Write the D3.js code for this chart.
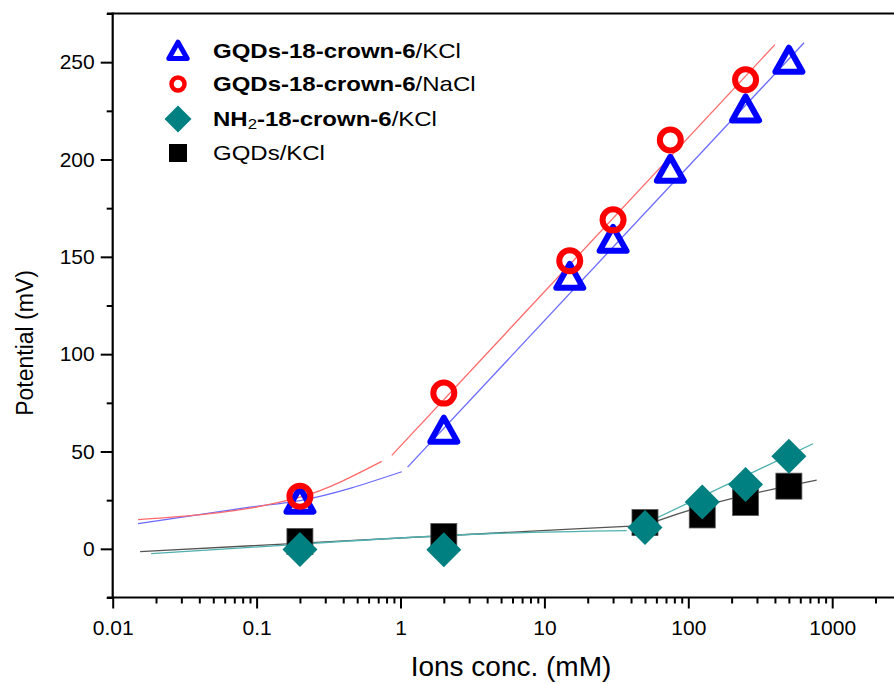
<!DOCTYPE html>
<html>
<head>
<meta charset="utf-8">
<script src="https://cdn.jsdelivr.net/npm/d3@7"></script>
<style>
  html, body { margin: 0; padding: 0; background: #fff; }
  svg { display: block; }
</style>
</head>
<body>
<svg id="chart" width="894" height="684"></svg>
<script>
// ---------- data ----------
const xTickValues = [0.01, 0.1, 1, 10, 100, 1000];
const xTickLabels = ["0.01", "0.1", "1", "10", "100", "1000"];
const yTickValues = [0, 50, 100, 150, 200, 250];
const yTickLabels = ["0", "50", "100", "150", "200", "250"];

const seriesNames = ["GQDs-18-crown-6/KCl", "GQDs-18-crown-6/NaCl", "NH2-18-crown-6/KCl", "GQDs/KCl"];

const triConc = [0.2, 2, 15, 30, 75, 250, 500];
const triVal  = [24, 60, 139, 158, 194, 225, 250];

const circConc = [0.2, 2, 15, 30, 75, 250];
const circVal  = [27, 80, 148, 169, 210, 241];

const diaConc = [0.2, 2, 50, 125, 250, 500];
const diaVal  = [-0.3, -0.5, 11, 24, 33, 47.5];

const sqConc = [0.2, 2, 50, 125, 250, 500];
const sqVal  = [3.8, 6.3, 13.5, 17.4, 23.8, 32.2];

// fitted lines (as [conc, value] points)
const blueFit1 = [[0.015, 13], [0.09, 21.4], [0.2, 24.8], [1.02, 39.6]];
const blueFit2 = [[1.12, 42], [637, 260]];
const redFit1  = [[0.015, 15], [0.2, 26.5], [0.74, 44.9]];
const redFit2  = [[0.87, 48], [400, 259]];
const blackFit1 = [[0.0155, -1.4], [17.7, 10.4], [50, 12]];
const blackFit2 = [[50, 12], [61.7, 14.5], [780, 35.3]];
const tealFit1 = [[0.0185, -2.5], [0.09, 0.8], [4.94, 8.0], [37.3, 9.4]];
const tealFit2 = [[48.4, 12.5], [736, 54]];

// ---------- layout ----------
const svg = d3.select("#chart");
const x = d3.scaleLog().domain([0.01, 2300]).range([112.7, 112.7 + 143.9 * Math.log10(230000)]);
const y = d3.scaleLinear().domain([-25, 275]).range([597.5, 13.5]);

const font = "'Liberation Sans', Arial, sans-serif";

// fit lines
const line = d3.line().x(d => x(d[0])).y(d => y(d[1])).curve(d3.curveMonotoneX);
const fits = [
  [blueFit1, "#6a6aff"], [blueFit2, "#6a6aff"],
  [redFit1, "#ff6a6a"], [redFit2, "#ff6a6a"],
  [blackFit1, "#555"], [blackFit2, "#555"],
  [tealFit1, "#4fb0b0"], [tealFit2, "#4fb0b0"]
];
const gFits = svg.append("g");
fits.forEach(([pts, col]) => {
  gFits.append("path").attr("d", line(pts)).attr("fill", "none")
    .attr("stroke", col).attr("stroke-width", 1.3);
});

// markers
const gMarks = svg.append("g");
const triPath = (cx, cy, s = 1) => {
  const h = 24 * s, w = 27 * s;
  return `M${cx},${cy - h * 0.6} L${cx + w / 2},${cy + h * 0.4} L${cx - w / 2},${cy + h * 0.4} Z`;
};
gMarks.selectAll("rect.sq").data(sqConc.map((c, i) => [c, sqVal[i]])).enter()
  .append("rect").attr("x", d => x(d[0]) - 13).attr("y", d => y(d[1]) - 13)
  .attr("width", 26).attr("height", 26).attr("fill", "#000").attr("stroke", "#555").attr("stroke-width", 0.8);
gMarks.selectAll("path.dia").data(diaConc.map((c, i) => [c, diaVal[i]])).enter()
  .append("path").attr("d", d => {
    const cx = x(d[0]), cy = y(d[1]), r = 17.5;
    return `M${cx},${cy - r} L${cx + r},${cy} L${cx},${cy + r} L${cx - r},${cy} Z`;
  }).attr("fill", "#008080");
gMarks.selectAll("path.tri").data(triConc.map((c, i) => [c, triVal[i]])).enter()
  .append("path").attr("d", d => triPath(x(d[0]), y(d[1])))
  .attr("fill", "none").attr("stroke", "#0000ff").attr("stroke-width", 6).attr("stroke-linejoin", "round");
gMarks.selectAll("circle.c").data(circConc.map((c, i) => [c, circVal[i]])).enter()
  .append("circle").attr("cx", d => x(d[0])).attr("cy", d => y(d[1])).attr("r", 10.5)
  .attr("fill", "none").attr("stroke", "#ff0000").attr("stroke-width", 6);

// ---------- axes ----------
const xMinor = [];
for (let e = -2; e <= 3; e++) for (let m = 1; m <= 9; m++) {
  const v = m * Math.pow(10, e);
  if (v <= 2300) xMinor.push(v);
}
const gx = svg.append("g").attr("transform", `translate(0,${y(-25)})`)
  .call(d3.axisBottom(x).tickValues(xMinor).tickSize(6).tickFormat(""));
gx.select(".domain").remove();
gx.selectAll(".tick line").attr("stroke", "#000").attr("stroke-width", 2)
  .attr("y2", d => xTickValues.includes(d) ? 11 : 6);
const gxMaj = svg.append("g").attr("transform", `translate(0,${y(-25)})`)
  .call(d3.axisBottom(x).tickValues(xTickValues).tickSize(0).tickPadding(23)
    .tickFormat((d, i) => xTickLabels[i]));
gxMaj.select(".domain").remove();
gxMaj.selectAll("text").attr("font-family", font).attr("font-size", 21).attr("fill", "#000");
svg.append("line").attr("x1", 107).attr("x2", 894).attr("y1", y(-25)).attr("y2", y(-25))
  .attr("stroke", "#000").attr("stroke-width", 2.2);
// top frame line
svg.append("line").attr("x1", 107).attr("x2", 894).attr("y1", y(275)).attr("y2", y(275))
  .attr("stroke", "#000").attr("stroke-width", 2.2);

const yMinor = d3.range(-25, 276, 25);
const gy = svg.append("g").attr("transform", `translate(${x(0.01)},0)`)
  .call(d3.axisLeft(y).tickValues(yMinor).tickSize(6).tickFormat(""));
gy.select(".domain").remove();
gy.selectAll(".tick line").attr("stroke", "#000").attr("stroke-width", 2)
  .attr("x2", d => yTickValues.includes(d) ? -12 : -6);
const gyMaj = svg.append("g").attr("transform", `translate(${x(0.01)},0)`)
  .call(d3.axisLeft(y).tickValues(yTickValues).tickSize(0).tickPadding(18)
    .tickFormat((d, i) => yTickLabels[i]));
gyMaj.select(".domain").remove();
gyMaj.selectAll("text").attr("font-family", font).attr("font-size", 21).attr("fill", "#000");
svg.append("line").attr("x1", x(0.01)).attr("x2", x(0.01)).attr("y1", y(275) - 1).attr("y2", y(-25) + 1)
  .attr("stroke", "#000").attr("stroke-width", 2.2);

// axis titles
svg.append("text").attr("x", 511).attr("y", 676).attr("text-anchor", "middle")
  .attr("font-family", font).attr("font-size", 28).text("Ions conc. (mM)");
svg.append("text").attr("transform", "translate(33,343) rotate(-90)").attr("text-anchor", "middle")
  .attr("font-family", font).attr("font-size", 23).text("Potential (mV)");

// ---------- legend ----------
const legY = [51, 84, 119, 153];
const legX = 178, legTX = 213;
const gl = svg.append("g");
gl.append("path").attr("d", triPath(legX, legY[0] + 1, 0.68)).attr("fill", "none").attr("stroke", "#0000ff")
  .attr("stroke-width", 5).attr("stroke-linejoin", "round");
gl.append("circle").attr("cx", legX).attr("cy", legY[1]).attr("r", 6.5).attr("fill", "none")
  .attr("stroke", "#ff0000").attr("stroke-width", 4.5);
gl.append("path").attr("d", `M${legX},${legY[2] - 13.5} L${legX + 13.5},${legY[2]} L${legX},${legY[2] + 13.5} L${legX - 13.5},${legY[2]} Z`)
  .attr("fill", "#008080");
gl.append("rect").attr("x", legX - 9).attr("y", legY[3] - 9).attr("width", 18).attr("height", 18).attr("fill", "#000");

const legendParts = [
  [["GQDs-18-crown-6", true], ["/KCl", false]],
  [["GQDs-18-crown-6", true], ["/NaCl", false]],
  [["NH", true], ["2", false, 1], ["-18-crown-6", true, -1], ["/KCl", false]],
  [["GQDs/KCl", false]]
];
legendParts.forEach((parts, i) => {
  const t = gl.append("text").attr("transform", `translate(${legTX},${legY[i] + 7}) scale(1.2,1)`)
    .attr("font-family", font).attr("font-size", 20).attr("fill", "#000");
  parts.forEach(([s, bold, sub]) => {
    const ts = t.append("tspan").text(s).attr("font-weight", bold ? "bold" : "normal");
    if (sub === 1) ts.attr("font-size", 14).attr("dy", 3);
    else if (sub === -1) ts.attr("dy", -3);
  });
});
</script>
</body>
</html>
